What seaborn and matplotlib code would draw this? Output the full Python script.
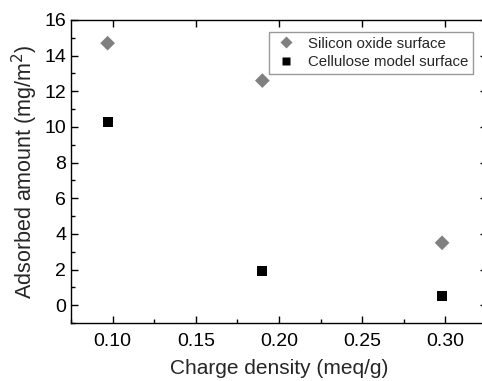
import matplotlib
matplotlib.use("Agg")
import matplotlib.pyplot as plt
import seaborn as sns
import pandas as pd
from matplotlib.ticker import MultipleLocator, FormatStrFormatter

sns.set_theme(style="ticks")
plt.rcParams['font.family'] = ['Liberation Sans', 'DejaVu Sans']

charge = [0.097, 0.190, 0.298]
silicon = [14.7, 12.6, 3.5]
cellulose = [10.3, 1.9, 0.5]
series_names = ["Silicon oxide surface", "Cellulose model surface"]

df = pd.DataFrame({
    "x": charge * 2,
    "y": silicon + cellulose,
    "s": [series_names[0]] * 3 + [series_names[1]] * 3,
})

fig = plt.figure(figsize=(4.82, 3.81), dpi=100)
ax = fig.add_axes([71/482, 1 - 323/381, (487 - 71)/482, (323 - 20)/381])

sns.scatterplot(data=df, x="x", y="y", hue="s", style="s", size="s",
                palette={series_names[0]: "#808080", series_names[1]: "#000000"},
                markers={series_names[0]: "D", series_names[1]: "s"},
                sizes={series_names[0]: 56, series_names[1]: 52},
                edgecolor="none", ax=ax, legend=True)

ax.set_xlim(0.075, 0.325)
ax.set_ylim(-1, 16)
ax.xaxis.set_major_locator(MultipleLocator(0.05))
ax.xaxis.set_minor_locator(MultipleLocator(0.025))
ax.yaxis.set_major_locator(MultipleLocator(2))
ax.yaxis.set_minor_locator(MultipleLocator(1))
ax.xaxis.set_major_formatter(FormatStrFormatter('%.2f'))

ax.tick_params(which="both", direction="in", top=True, right=True, labelsize=14, colors="black", width=1)
ax.tick_params(which="major", length=5)
ax.tick_params(which="minor", length=3, top=False, right=False)
ax.tick_params(axis="x", pad=7)
for sp in ax.spines.values():
    sp.set_visible(True)
    sp.set_color("black")
    sp.set_linewidth(1)

ax.set_xlabel("Charge density (meq/g)", fontsize=15, labelpad=7)
ax.set_ylabel("Adsorbed amount (mg/m$^2$)", fontsize=15.5, labelpad=3)

leg = ax.legend(loc="upper right", fontsize=10.8, markerscale=0.8,
                frameon=True, fancybox=False, edgecolor="#808080", handletextpad=0.7,
                borderpad=0.3, labelspacing=0.3, handlelength=1.6, borderaxespad=0)
leg.get_frame().set_linewidth(1)
leg.set_bbox_to_anchor((0, 0, (473 - 71)/416, (323 - 32)/303), transform=ax.transAxes)

fig.savefig("out.png", dpi=100)
